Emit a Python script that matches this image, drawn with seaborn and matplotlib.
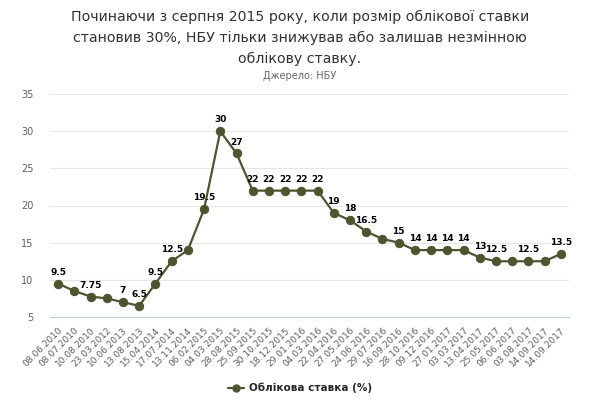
import numpy as np
import pandas as pd
import matplotlib
matplotlib.use('Agg')
import matplotlib.pyplot as plt
import seaborn as sns
from matplotlib.lines import Line2D

dates = ['08.06.2010', '08.07.2010', '10.08.2010', '23.03.2012', '10.06.2013', '13.08.2013',
         '15.04.2014', '17.07.2014', '13.11.2014', '06.02.2015', '04.03.2015', '28.08.2015',
         '25.09.2015', '30.10.2015', '18.12.2015', '29.01.2016', '04.03.2016', '22.04.2016',
         '27.05.2016', '24.06.2016', '29.07.2016', '16.09.2016', '28.10.2016', '09.12.2016',
         '27.01.2017', '03.03.2017', '13.04.2017', '25.05.2017', '06.06.2017', '03.08.2017',
         '14.09.2017', '14.09.2017']
rates = [9.5, 8.5, 7.75, 7.5, 7, 6.5, 9.5, 12.5, 14, 19.5, 30, 27, 22, 22, 22, 22, 22, 19,
         18, 16.5, 15.5, 15, 14, 14, 14, 14, 13, 12.5, 12.5, 12.5, 12.5, 13.5]
# labels that the original chart actually shows (others hidden by overlap)
shown = ['9.5', '', '7.75', '', '7', '6.5', '9.5', '12.5', '', '19.5', '30', '27',
         '22', '22', '22', '22', '22', '19', '18', '16.5', '', '15', '14', '14', '14', '14',
         '13', '12.5', '', '12.5', '', '13.5']

df = pd.DataFrame({'pos': np.arange(len(dates)), 'rate': rates})
color = '#4d5530'

sns.set_style('white')
plt.rcParams['font.family'] = ['DejaVu Sans']

fig = plt.figure(figsize=(6, 4.08), dpi=100)
ax = fig.add_axes([50 / 600, 1 - 317 / 408, 519 / 600, 223 / 408])

sns.lineplot(data=df, x='pos', y='rate', ax=ax, color=color, marker='o', markersize=6,
             markeredgecolor=color, linewidth=1.6)

for x, y, t in zip(df['pos'], df['rate'], shown):
    if t:
        ax.annotate(t, xy=(x, y), xytext=(0, 5), textcoords='offset points', ha='center',
                    va='bottom', fontsize=6.5, fontweight='bold', color='black')

ax.set_xlim(-0.5, len(dates) - 0.5)
ax.set_ylim(5, 35)
ax.set_yticks(range(5, 36, 5))
ax.set_xticks(df['pos'])
ax.set_xticklabels(dates, rotation=45, ha='right', rotation_mode='anchor', fontsize=6.5, color='#606060')
ax.set_xticks(np.arange(-0.5, len(dates), 1), minor=True)
ax.tick_params(axis='x', which='major', length=0, pad=6)
ax.tick_params(axis='x', which='minor', length=5, color='#c0d0e0', width=0.8)
ax.tick_params(axis='y', length=0, labelsize=7, labelcolor='#606060', pad=12)
ax.grid(axis='y', color='#e6e6e6', linewidth=0.8)
ax.set_axisbelow(True)
for s in ['top', 'right', 'left']:
    ax.spines[s].set_visible(False)
ax.spines['bottom'].set_color('#c0d0e0')
ax.set_xlabel('')
ax.set_ylabel('')

fig.text(0.5, 1 - 10 / 408, 'Починаючи з серпня 2015 року, коли розмір облікової ставки\n'
         'становив 30%, НБУ тільки знижував або залишав незмінною\nоблікову ставку.',
         ha='center', va='top', fontsize=10.2, color='#333333', linespacing=1.62)
fig.text(0.5, 1 - 76 / 408, 'Джерело: НБУ', ha='center', va='center', fontsize=7, color='#666666')

handle = Line2D([0], [0], color=color, marker='o', markersize=5, linewidth=1.6)
fig.legend([handle], ['Облікова ставка (%)'], loc='center', bbox_to_anchor=(0.5, 1 - 388 / 408),
           frameon=False, prop={'size': 7.5, 'weight': 'bold'}, handlelength=1.5, handletextpad=0.5)

fig.savefig('out.png', dpi=100)
